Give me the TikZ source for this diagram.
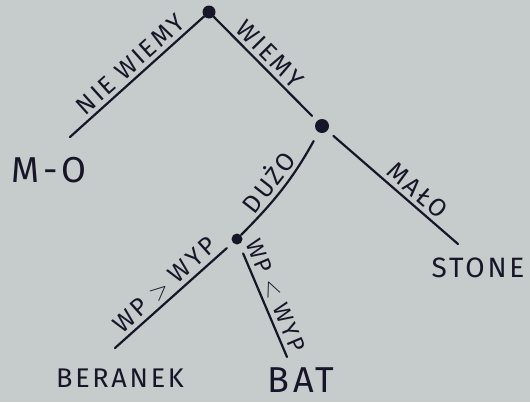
\documentclass[tikz,border=0pt]{standalone}
\usepackage{fontspec}
\setmainfont{Fira Sans}[LetterSpace=10]
\usepackage{xcolor}
\definecolor{board}{RGB}{198,203,204}
\definecolor{ink}{RGB}{22,22,40}
\tikzset{dot/.style={circle,fill=ink,inner sep=0pt,minimum size=12pt},
  leaf/.style={text=ink,inner sep=0pt,font=\fontsize{28}{30}\selectfont},
  edge/.style={draw=ink,line width=2.2pt,line cap=round},
  lbl/.style={text=ink,sloped,above,inner sep=4pt,font=\fontsize{25}{27}\selectfont}}

\begin{document}
\begin{tikzpicture}[x=1pt,y=-1pt]
\fill[board] (0,0) rectangle (530,402);
% inner decisions
\node[dot,minimum size=13pt] (root) at (209,12){};
\node[dot,minimum size=14pt] (n2) at (322,126){};
\node[dot,minimum size=11pt] (n3) at (237,239){};
% outcomes
\node[leaf,font=\fontsize{36}{38}\selectfont] (mo) at (49,170){M-O};
\node[leaf] (stone) at (478,268){STONE};
\node[leaf,font=\fontsize{27}{29}\selectfont] (beranek) at (120,378){BERANEK};
\node[leaf,font=\fontsize{36}{38}\selectfont] (bat) at (301,380){BAT};
\coordinate (moend) at (70,137); \coordinate (stoneend) at (458,244);
\coordinate (beranekend) at (115,348); \coordinate (batend) at (287,357);
% branches
\draw[edge] (root)--node[lbl,pos=0.48]{NIE WIEMY}(moend);
\draw[edge,shorten >=7pt] (root)--node[lbl,pos=0.45]{WIEMY}(n2);
\draw[edge,shorten <=10pt] (n2) to[bend left=8] node[lbl,pos=0.55]{DUŻO} (n3);
\draw[edge,shorten <=8pt] (n2)--node[lbl,pos=0.62]{MAŁO}(stoneend);
\draw[edge,shorten <=8pt] (n3)--node[lbl]{WP $>$ WYP}(beranekend);
\draw[edge,shorten <=10pt] (n3)--node[lbl,pos=0.5,font=\fontsize{23}{25}\selectfont]{WP $<$ WYP}(batend);
\end{tikzpicture}
\end{document}
